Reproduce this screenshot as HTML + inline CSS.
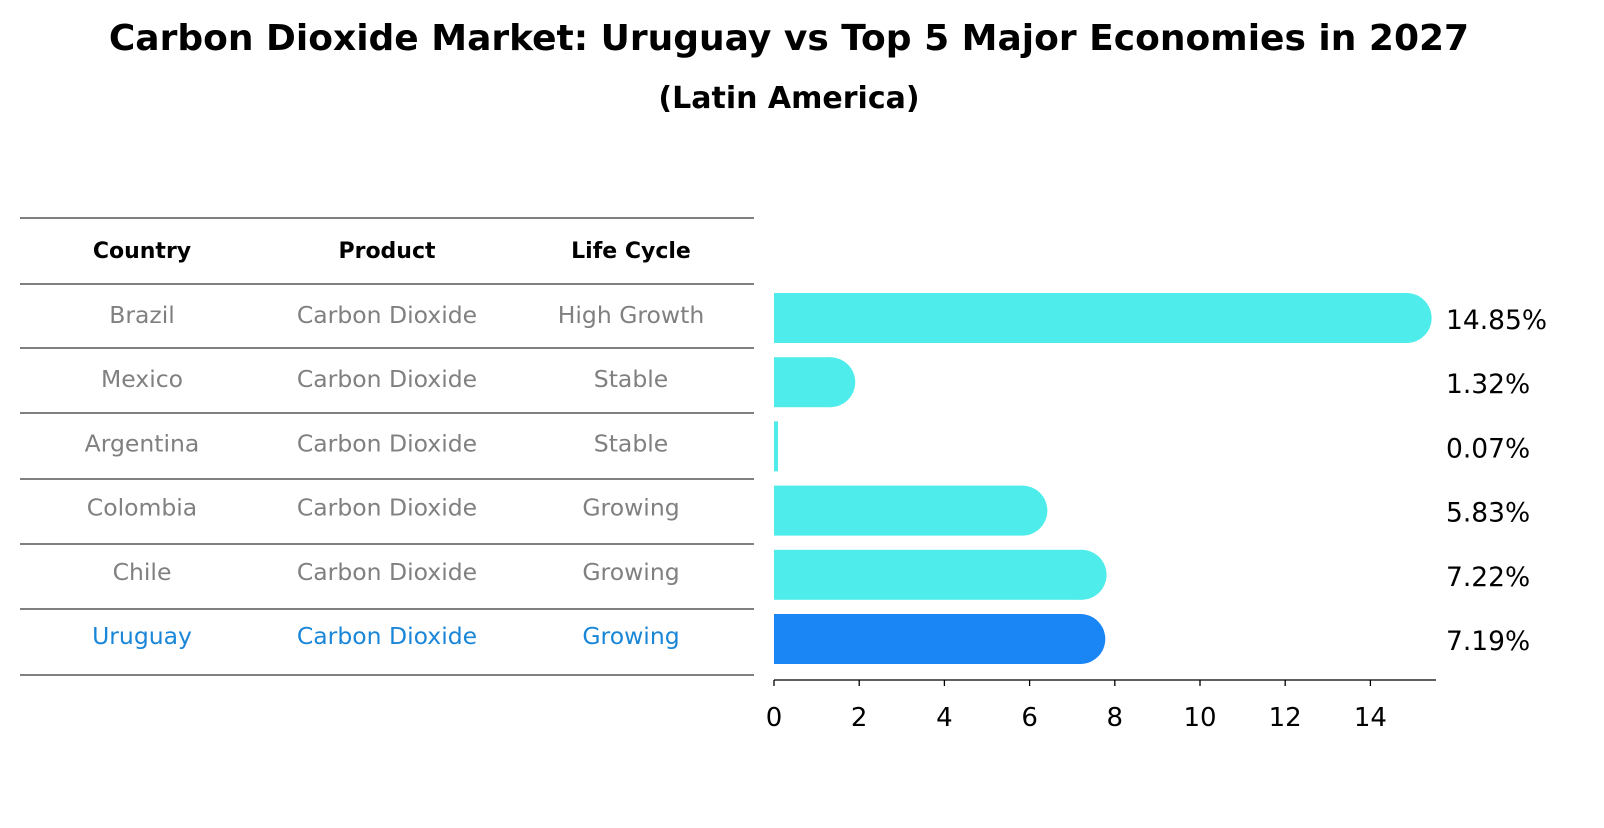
<!DOCTYPE html>
<html><head><meta charset="utf-8"><style>
body{margin:0;background:#fff;font-family:"Liberation Sans","DejaVu Sans",sans-serif}
svg text{font-family:"DejaVu Sans","Liberation Sans",sans-serif}
</style></head><body>
<svg width="1604" height="823" xmlns="http://www.w3.org/2000/svg">
<text x="789" y="50" text-anchor="middle" font-size="36" font-weight="bold">Carbon Dioxide Market: Uruguay vs Top 5 Major Economies in 2027</text>
<text x="789" y="108" text-anchor="middle" font-size="30" font-weight="bold">(Latin America)</text>
<g id="table"></g>
<g id="bars"></g>
<g id="axis"></g>
</svg>
<script>
const countries=["Brazil","Mexico","Argentina","Colombia","Chile","Uruguay"];
const products=["Carbon Dioxide","Carbon Dioxide","Carbon Dioxide","Carbon Dioxide","Carbon Dioxide","Carbon Dioxide"];
const lifeCycles=["High Growth","Stable","Stable","Growing","Growing","Growing"];
const values=[14.85,1.32,0.07,5.83,7.22,7.19];
const ticks=[0,2,4,6,8,10,12,14];
const NS="http://www.w3.org/2000/svg";
function mk(tag,attrs,parent){const e=document.createElementNS(NS,tag);for(const k in attrs)e.setAttribute(k,attrs[k]);parent.appendChild(e);return e;}
const x0=774,scale=42.6;
function xs(v){return x0+v*scale;}
function yc(i){return 318+i*64.2;}
const table=document.getElementById('table');
const lineYs=[218,284,348,413,479,544,609,675];
lineYs.forEach(y=>{const l=mk('line',{x1:20,x2:754,y1:y,y2:y,stroke:'#000','stroke-width':1},table);

});
const colX=[142,387,631];
["Country","Product","Life Cycle"].forEach((h,j)=>{const t=mk('text',{x:colX[j],y:258,'text-anchor':'middle','font-size':22,'font-weight':'bold'},table);t.textContent=h;

});
countries.forEach((c,i)=>{const col=i===5?'#1a86d8':'#808080';
[c,products[i],lifeCycles[i]].forEach((s,j)=>{const t=mk('text',{x:colX[j],y:yc(i)+5,'text-anchor':'middle','font-size':23.5,fill:col},table);t.textContent=s;

});});
const bars=document.getElementById('bars');
values.forEach((v,i)=>{const col=i===5?'#1a86f5':'#4eecea';const y=yc(i);const xe=xs(v);
const g=mk('g',{},bars);


if(v*scale<8){mk('rect',{x:x0,y:y-25,width:4,height:50,fill:col},g);}
else{mk('rect',{x:x0,y:y-25,width:xe-x0,height:50,fill:col},g);mk('circle',{cx:xe,cy:y,r:25,fill:col},g);}
const t=mk('text',{x:1446,y:y+11,'font-size':26.5},bars);t.textContent=v.toFixed(2)+'%';

});
const axis=document.getElementById('axis');
mk('line',{x1:x0,x2:1436,y1:680,y2:680,stroke:'#000','stroke-width':1.3},axis);
ticks.forEach(tv=>{mk('line',{x1:xs(tv),x2:xs(tv),y1:680,y2:686,stroke:'#000','stroke-width':1.3},axis);
const t=mk('text',{x:xs(tv),y:726,'text-anchor':'middle','font-size':26},axis);t.textContent=tv;

});
</script>
</body></html>
